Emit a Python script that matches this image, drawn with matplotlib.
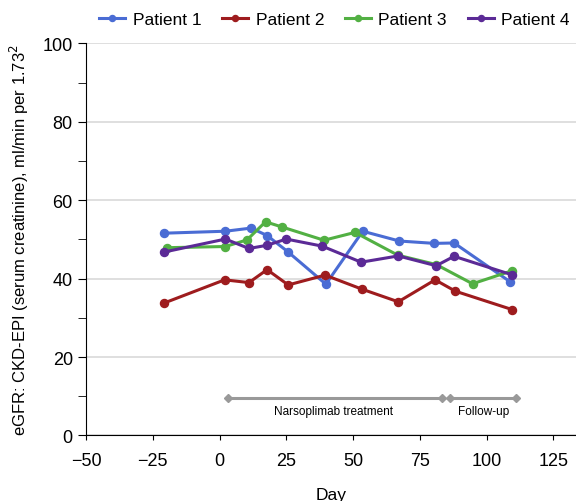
import matplotlib.pyplot as plt
from matplotlib.ticker import MultipleLocator

plt.rcParams["font.family"] = ["Liberation Sans", "DejaVu Sans"]

# 数据
days_p1 = [-20.7, 2.2, 11.8, 17.8, 25.5, 39.8, 53.6, 67.3, 80.4, 87.8, 108.8]
egfr_p1 = [51.6, 52.1, 52.9, 51.0, 46.9, 38.6, 52.1, 49.6, 49.0, 49.1, 39.2]

days_p2 = [-20.7, 1.9, 11.0, 17.8, 25.7, 39.5, 53.4, 66.9, 80.7, 88.3, 109.6]
egfr_p2 = [33.8, 39.7, 39.0, 42.3, 38.4, 40.9, 37.3, 34.1, 39.7, 36.8, 32.1]

days_p3 = [-19.8, 2.2, 10.3, 17.2, 23.3, 39.1, 50.7, 66.7, 81.1, 94.7, 109.4]
egfr_p3 = [47.9, 48.2, 49.9, 54.5, 53.2, 49.8, 51.8, 46.0, 43.6, 38.7, 42.0]

days_p4 = [-20.7, 2.2, 11.0, 17.7, 25.0, 38.4, 53.0, 66.9, 81.1, 87.8, 109.4]
egfr_p4 = [46.8, 50.1, 47.7, 48.5, 50.1, 48.3, 44.2, 45.8, 43.3, 45.7, 41.0]

labels = ["Patient 1", "Patient 2", "Patient 3", "Patient 4"]
colors = ["#4a6cd4", "#9e1c1e", "#52b043", "#5b2a96"]

treat_span = [3.1, 83.1]
follow_span = [86.1, 111.0]
x_ticks = [-50, -25, 0, 25, 50, 75, 100, 125]
y_ticks = [0, 20, 40, 60, 80, 100]

fig = plt.figure(figsize=(5.76, 5.02), dpi=100)
ax = fig.add_axes([0.1493, 0.1305, 0.851, 0.781])

series = [(days_p1, egfr_p1), (days_p2, egfr_p2), (days_p3, egfr_p3), (days_p4, egfr_p4)]
for (d, v), lab, c in zip(series, labels, colors):
    ax.plot(d, v, color=c, lw=2.2, marker="o", ms=5.8, label=lab, zorder=3)

# 治疗期 / 随访期
bar_y = 9.6
ax.plot(treat_span, [bar_y, bar_y], color="#999999", lw=2.2, marker="D", ms=4.5, zorder=2)
ax.plot(follow_span, [bar_y, bar_y], color="#999999", lw=2.2, marker="D", ms=4.5, zorder=2)
ax.text(42.7, 6.2, "Narsoplimab treatment", ha="center", va="center", fontsize=8.5)
ax.text(98.7, 6.2, "Follow-up", ha="center", va="center", fontsize=8.5)

ax.set_xlim(-50, 133.5)
ax.set_ylim(0, 100)
ax.set_xticks(x_ticks)
ax.set_xticklabels(["\u221250", "\u221225", "0", "25", "50", "75", "100", "125"])
ax.set_yticks(y_ticks)
ax.yaxis.set_minor_locator(MultipleLocator(10))
ax.tick_params(axis="x", labelsize=13, length=3.6, pad=8, direction="out")
ax.tick_params(axis="y", which="both", labelsize=13, length=5.5, pad=4, direction="out")
ax.yaxis.grid(True, color="#dcdcdc", lw=1.3)
ax.set_axisbelow(True)
for s in ["top", "right"]:
    ax.spines[s].set_visible(False)

ax.set_xlabel("Day", fontsize=12.5, labelpad=13.5)
ax.set_ylabel("eGFR: CKD-EPI (serum creatinine), ml/min per 1.73$^2$", fontsize=12)
ax.yaxis.set_label_coords(-0.112, 0.5)

ax.legend(loc="center left", bbox_to_anchor=(90.7 / 576, 1 - 20.7 / 502),
          bbox_transform=fig.transFigure, ncol=4, frameon=False,
          fontsize=12.5, handlelength=1.5, columnspacing=1.2, handletextpad=0.42,
          borderpad=0, markerscale=0.75)

fig.savefig("out.png", dpi=100)
